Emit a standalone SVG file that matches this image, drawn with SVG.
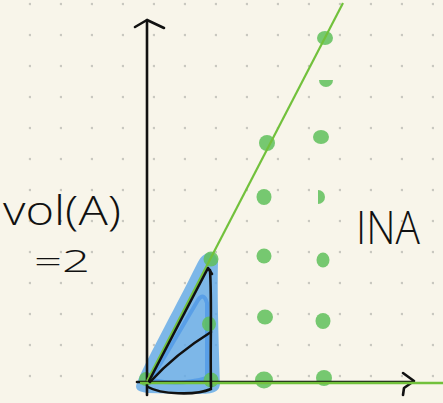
<svg xmlns="http://www.w3.org/2000/svg" width="443" height="403" viewBox="0 0 443 403">
  <defs>
    <pattern id="grid" width="31" height="31" patternUnits="userSpaceOnUse">
      <circle cx="30" cy="4" r="1.3" fill="#c9c8c0"/>
    </pattern>
    <style>
      .ink { fill: none; stroke: #111; stroke-width: 2.6; stroke-linecap: round; stroke-linejoin: round; }
      .pt { fill: #5fbf5a; opacity: 0.85; }
      .hand { font-family: "Open Sans", "DejaVu Sans", sans-serif; font-weight: 300; fill: #111; }
    </style>
  </defs>
  <rect width="443" height="403" fill="#f8f5ea"/>
  <rect width="443" height="403" fill="url(#grid)"/>

  <g id="region-A">
    <path d="M137,383 C145,362 170,318 198,262 C204,250 216,250 218,262 C217,300 219,350 220,384 C219,394 210,394 190,394 L148,393 C138,392 134,389 137,383 Z" fill="#62aae8" opacity="0.82"/>
    <path d="M152,378 L198,300 Q204,292 207,303 L207,378 Q180,386 152,380 Z" fill="none" stroke="#3c8de6" stroke-width="4" opacity="0.55"/>
  </g>

  <g id="lattice-points">
    <ellipse class="pt" cx="325" cy="38" rx="8" ry="7"/>
    <path class="pt" d="M319,80 L333,80 A7,7 0 0 1 319,80 Z"/>
    <ellipse class="pt" cx="321" cy="137" rx="8" ry="7"/>
    <ellipse class="pt" cx="267" cy="143" rx="8" ry="8"/>
    <ellipse class="pt" cx="264" cy="197" rx="7.5" ry="8"/>
    <path class="pt" d="M318,190 A7,7 0 0 1 318,204 Z"/>
    <ellipse class="pt" cx="264" cy="256" rx="7.5" ry="7.5"/>
    <ellipse class="pt" cx="323" cy="260" rx="6.5" ry="7.5"/>
    <ellipse class="pt" cx="265" cy="317" rx="8" ry="7.5"/>
    <ellipse class="pt" cx="323" cy="321" rx="7.5" ry="8"/>
    <ellipse class="pt" cx="264" cy="380" rx="9" ry="8.5"/>
    <ellipse class="pt" cx="324" cy="378" rx="8" ry="8"/>
    <ellipse class="pt" cx="211" cy="259" rx="7.5" ry="7.5" opacity="0.7"/>
    <ellipse class="pt" cx="209" cy="324" rx="7" ry="7.5" opacity="0.7"/>
    <ellipse class="pt" cx="211" cy="380" rx="7.5" ry="7.5" opacity="0.7"/>
    <ellipse class="pt" cx="146" cy="379" rx="7" ry="7" opacity="0.7"/>
  </g>

  <g id="connectors">
    <path class="ink" d="M147,395 L147,20"/>
    <path class="ink" d="M135,27 L147,20 L164,28"/>
    <path class="ink" d="M137,382 L412,382"/>
    <path class="ink" d="M403,373 L414,381 L404,388 L403,395"/>
    <path d="M147,381 L343,3" fill="none" stroke="#72c13c" stroke-width="2.2"/>
    <path d="M140,383 L443,383" fill="none" stroke="#72c13c" stroke-width="2.4"/>
    <path class="ink" d="M149,381 L208,268 L212,274"/>
    <path class="ink" d="M210,270 C212,300 210,350 211,387"/>
    <path class="ink" d="M150,382 C170,360 190,345 211,332"/>
    <path class="ink" d="M148,387 C160,394 195,396 211,389"/>
  </g>

  <g id="labels">
    <text class="hand" x="3" y="225" font-size="40" textLength="118" lengthAdjust="spacingAndGlyphs">vol(A)</text>
    <text class="hand" x="34" y="272" font-size="32" textLength="56" lengthAdjust="spacingAndGlyphs">=2</text>
    <text class="hand" x="356" y="244" font-size="46" textLength="64" lengthAdjust="spacingAndGlyphs">INA</text>
  </g>
</svg>
